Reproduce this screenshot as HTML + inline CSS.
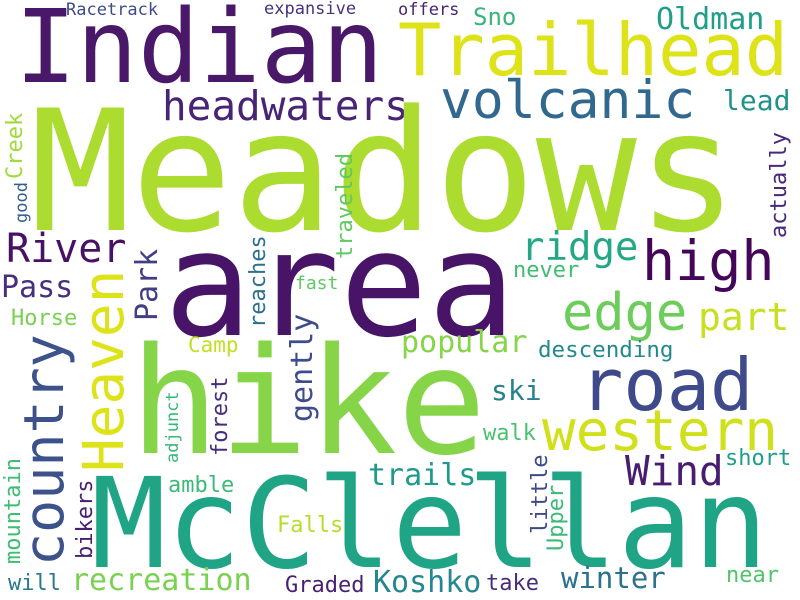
<!DOCTYPE html>
<html><head><meta charset="utf-8"><style>
html,body{margin:0;padding:0;background:#fff;}
svg{display:block;}
text{font-family:"DejaVu Sans Mono","Liberation Mono",monospace;}
</style></head><body>
<svg width="800" height="600" viewBox="0 0 800 600">
<rect width="800" height="600" fill="#fff"/>
<g>
<text x="15" y="82" font-size="102" fill="#4a1868">Indian</text>
<text x="66" y="15" font-size="17" fill="#3e4a89">Racetrack</text>
<text x="264" y="14" font-size="17" fill="#46327e">expansive</text>
<text x="398" y="15" font-size="17" fill="#482475">offers</text>
<text x="473" y="25" font-size="24" fill="#35b779">Sno</text>
<text x="656" y="29" font-size="30" fill="#1f9e89">Oldman</text>
<text x="398" y="75" font-size="72" fill="#dde318">Trailhead</text>
<text x="440" y="118" font-size="53" fill="#31688e">volcanic</text>
<text x="723" y="110" font-size="28" fill="#21918c">lead</text>
<text x="162" y="120" font-size="41" fill="#482475">headwaters</text>
<text x="30" y="230" font-size="168" fill="#addc30">Meadows</text>
<text x="6" y="262" font-size="40" fill="#471164">River</text>
<text x="1" y="297" font-size="30" fill="#472f7d">Pass</text>
<text x="521" y="260" font-size="39" fill="#22a884">ridge</text>
<text x="642" y="280" font-size="55" fill="#450559">high</text>
<text x="513" y="277" font-size="22" fill="#3fbc73">never</text>
<text x="164" y="335" font-size="146" fill="#481467">area</text>
<text x="562" y="330" font-size="52" fill="#6ccd5a">edge</text>
<text x="698" y="330" font-size="38" fill="#c8e020">part</text>
<text x="401" y="352" font-size="30" fill="#86d549">popular</text>
<text x="538" y="357" font-size="22.5" fill="#23898e">descending</text>
<text x="11" y="325" font-size="22" fill="#7ad151">Horse</text>
<text x="188" y="352" font-size="21" fill="#c2df23">Camp</text>
<text x="580" y="410" font-size="72" fill="#3e4a89">road</text>
<text x="491" y="400" font-size="28" fill="#26828e">ski</text>
<text x="542" y="450" font-size="56" fill="#d0e11c">western</text>
<text x="483" y="440" font-size="22" fill="#4ac16d">walk</text>
<text x="130" y="453" font-size="148" fill="#86d549">hike</text>
<text x="625" y="485" font-size="41" fill="#481c6e">Wind</text>
<text x="725" y="465" font-size="22" fill="#1f9e89">short</text>
<text x="368" y="485" font-size="30" fill="#1f9a8a">trails</text>
<text x="91" y="567" font-size="125" fill="#20a486">McClellan</text>
<text x="168" y="492" font-size="22" fill="#3bbb75">amble</text>
<text x="277" y="532" font-size="22" fill="#b5de2b">Falls</text>
<text x="71" y="590" font-size="30" fill="#7ad151">recreation</text>
<text x="8" y="590" font-size="22" fill="#2a788e">will</text>
<text x="285" y="592" font-size="22" fill="#482173">Graded</text>
<text x="373" y="592" font-size="30" fill="#24868e">Koshko</text>
<text x="486" y="590" font-size="22" fill="#472c7a">take</text>
<text x="561" y="588" font-size="29" fill="#2c718e">winter</text>
<text x="726" y="582" font-size="22" fill="#50c46a">near</text>
<text x="295" y="289" font-size="18" fill="#5ec962">fast</text>
</g>
<g>
<text transform="translate(22,179) rotate(-90)" font-size="22" fill="#a0da39">Creek</text>
<text transform="translate(27,223) rotate(-90)" font-size="17" fill="#355f8d">good</text>
<text transform="translate(352,259) rotate(-90)" font-size="22" fill="#5ec962">traveled</text>
<text transform="translate(157,321) rotate(-90)" font-size="30" fill="#433d84">Park</text>
<text transform="translate(123,472) rotate(-90)" font-size="56" fill="#dde318">Heaven</text>
<text transform="translate(63,566) rotate(-90)" font-size="55" fill="#3b528b">country</text>
<text transform="translate(265,328) rotate(-90)" font-size="22" fill="#2c728e">reaches</text>
<text transform="translate(312,422) rotate(-90)" font-size="30" fill="#3e4c8a">gently</text>
<text transform="translate(227,456) rotate(-90)" font-size="22" fill="#472d7b">forest</text>
<text transform="translate(178,463) rotate(-90)" font-size="17" fill="#35b779">adjunct</text>
<text transform="translate(20,564) rotate(-90)" font-size="22" fill="#3dbc74">mountain</text>
<text transform="translate(92,559) rotate(-90)" font-size="22" fill="#481f70">bikers</text>
<text transform="translate(547,534) rotate(-90)" font-size="22" fill="#3e4989">little</text>
<text transform="translate(563,551) rotate(-90)" font-size="22" fill="#3aba76">Upper</text>
<text transform="translate(786,238) rotate(-90)" font-size="22" fill="#482878">actually</text>
</g>
</svg>
</body></html>
